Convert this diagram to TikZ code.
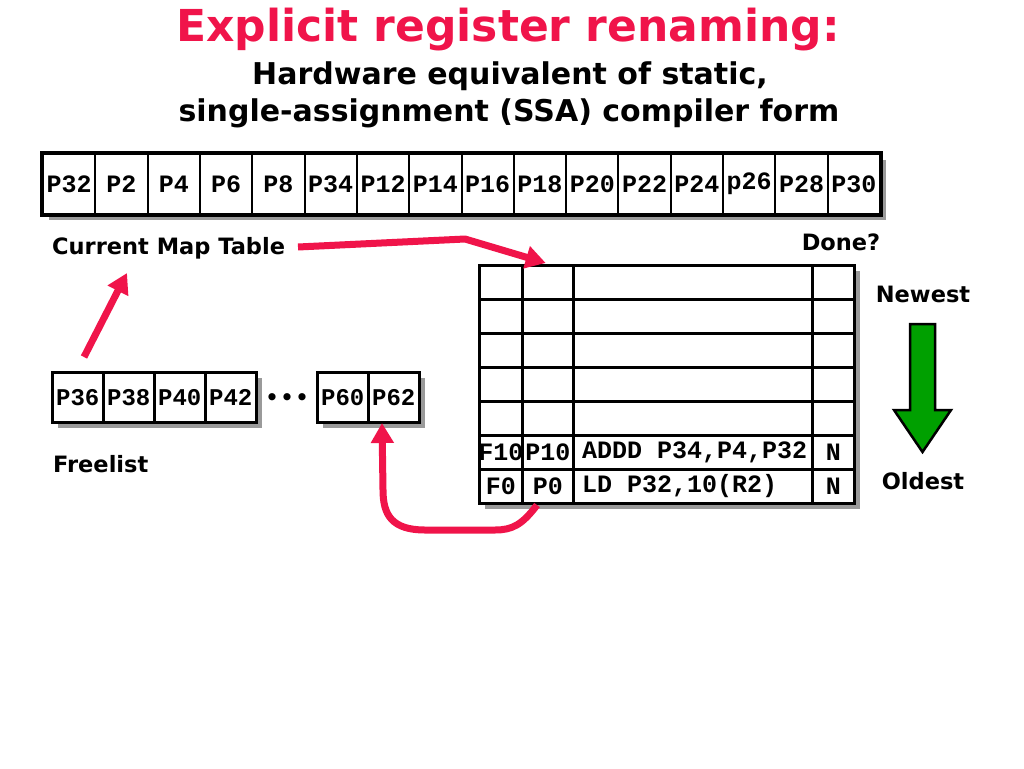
\documentclass[tikz,border=0pt]{standalone}
\usepackage{fontspec}
\setmainfont{DejaVu Sans}
\newfontfamily\monofont{Liberation Mono}
\usetikzlibrary{arrows.meta}
\definecolor{ttred}{HTML}{F0144A}
\definecolor{shadowgray}{HTML}{9A9A9A}
\definecolor{arrowgreen}{HTML}{00A000}
\begin{document}
\begin{tikzpicture}[x=1pt,y=-1pt,
  mapcell/.style={draw, line width=2pt, minimum width=52.3125pt, minimum height=60pt, inner sep=0pt, fill=white,
    font=\monofont\bfseries\fontsize{25}{25}\selectfont, anchor=north west},
  freecell/.style={draw, line width=2.5pt, minimum width=51pt, minimum height=50pt, inner sep=0pt, fill=white,
    font=\monofont\bfseries\fontsize{24}{24}\selectfont, anchor=north west},
  robcell/.style={draw, line width=2.5pt, minimum height=34pt, inner sep=0pt, fill=white, anchor=north west},
  robtext/.style={font=\monofont\bfseries\fontsize{25}{25}\selectfont, inner sep=0pt},
  label/.style={font=\bfseries\fontsize{22.5}{22.5}\selectfont, inner sep=0pt},
  shadow/.style={fill=shadowgray},
  redarrow/.style={draw=ttred, line width=7pt, -{Triangle[length=20pt,width=22pt]}},
]
\useasboundingbox[fill=white] (0,0) rectangle (1024,768);

% title
\node[font=\bfseries\fontsize{44}{44}\selectfont, text=ttred] (title) at (508,30) {Explicit register renaming:};
\node[font=\bfseries\fontsize{30}{30}\selectfont] (sub1) at (510,76) {Hardware equivalent of static,};
\node[font=\bfseries\fontsize{30}{30}\selectfont] (sub2) at (509,113) {single-assignment (SSA) compiler form};

% map table
\fill[shadow] (49,160) rectangle (886,220);
\foreach \t [count=\i] in {P32,P2,P4,P6,P8,P34,P12,P14,P16,P18,P20,P22,P24,p26,P28,P30}
  \node[mapcell] (m\i) at ({42+(\i-1)*52.3125},153) {\t};
\draw[line width=4pt] (m1.north west) rectangle (m16.south east);

\node[label, anchor=west] (cmt) at (52,248) {Current Map Table};
\node[label] (done) at (841,242) {Done?};

% freelist
\fill[shadow] (58,378) rectangle (262,428);
\fill[shadow] (323,378) rectangle (425,428);
\foreach \t [count=\i] in {P36,P38,P40,P42}
  \node[freecell] (f\i) at ({51+(\i-1)*51},371) {\t};
\node[font=\monofont\bfseries\fontsize{25}{25}\selectfont, inner sep=0pt] (dots) at (287,400) {•••};
\node[freecell] (f5) at (316,371) {P60};
\node[freecell] (f6) at (367,371) {P62};
\node[label, anchor=west] (freelist) at (53,464) {Freelist};

% ROB
\fill[shadow] (485,271) rectangle (860,509);
\foreach \r in {1,...,7}{
  \node[robcell, minimum width=43pt] (r\r c1) at (478,{264+(\r-1)*34}) {};
  \node[robcell, minimum width=51pt] (r\r c2) at (521,{264+(\r-1)*34}) {};
  \node[robcell, minimum width=239pt] (r\r c3) at (572,{264+(\r-1)*34}) {};
  \node[robcell, minimum width=42pt] (r\r c4) at (811,{264+(\r-1)*34}) {};
}
\node[robtext] at (r6c1) {F10};
\node[robtext] at (r6c2) {P10};
\node[robtext, anchor=west] at ([xshift=10pt]r6c3.west) {ADDD P34,P4,P32};
\node[robtext] at (r6c4) {N};
\node[robtext] at (r7c1) {F0};
\node[robtext] at (r7c2) {P0};
\node[robtext, anchor=west] at ([xshift=10pt]r7c3.west) {LD P32,10(R2)};
\node[robtext] at (r7c4) {N};

% newest / oldest
\node[label] (newest) at (923,294) {Newest};
\node[label] (oldest) at (923,481) {Oldest};
\draw[line width=2.5pt, fill=arrowgreen, line join=miter]
  (910,324) -- (935,324) -- (935,410) -- (951,410) -- (922.5,452) -- (894,410) -- (910,410) -- cycle;

% red arrows
\coordinate (a1s) at (84,357);
\coordinate (a1e) at (127,273);
\draw[redarrow] (a1s) -- (a1e);

\coordinate (a2s) at (298,247);
\coordinate (a2b) at (465,239);
\draw[redarrow, line join=round] (a2s) -- (a2b) -- ([xshift=-2pt,yshift=1pt]r1c2.north);

\coordinate (a3s) at (537,505);
\coordinate (a3e) at (382,423);
\draw[redarrow] (a3s) .. controls (522,525) and (512,530) .. (495,530) -- (425,530)
  .. controls (392,530) and (383,515) .. (383,490) -- (a3e);
\end{tikzpicture}
\end{document}
